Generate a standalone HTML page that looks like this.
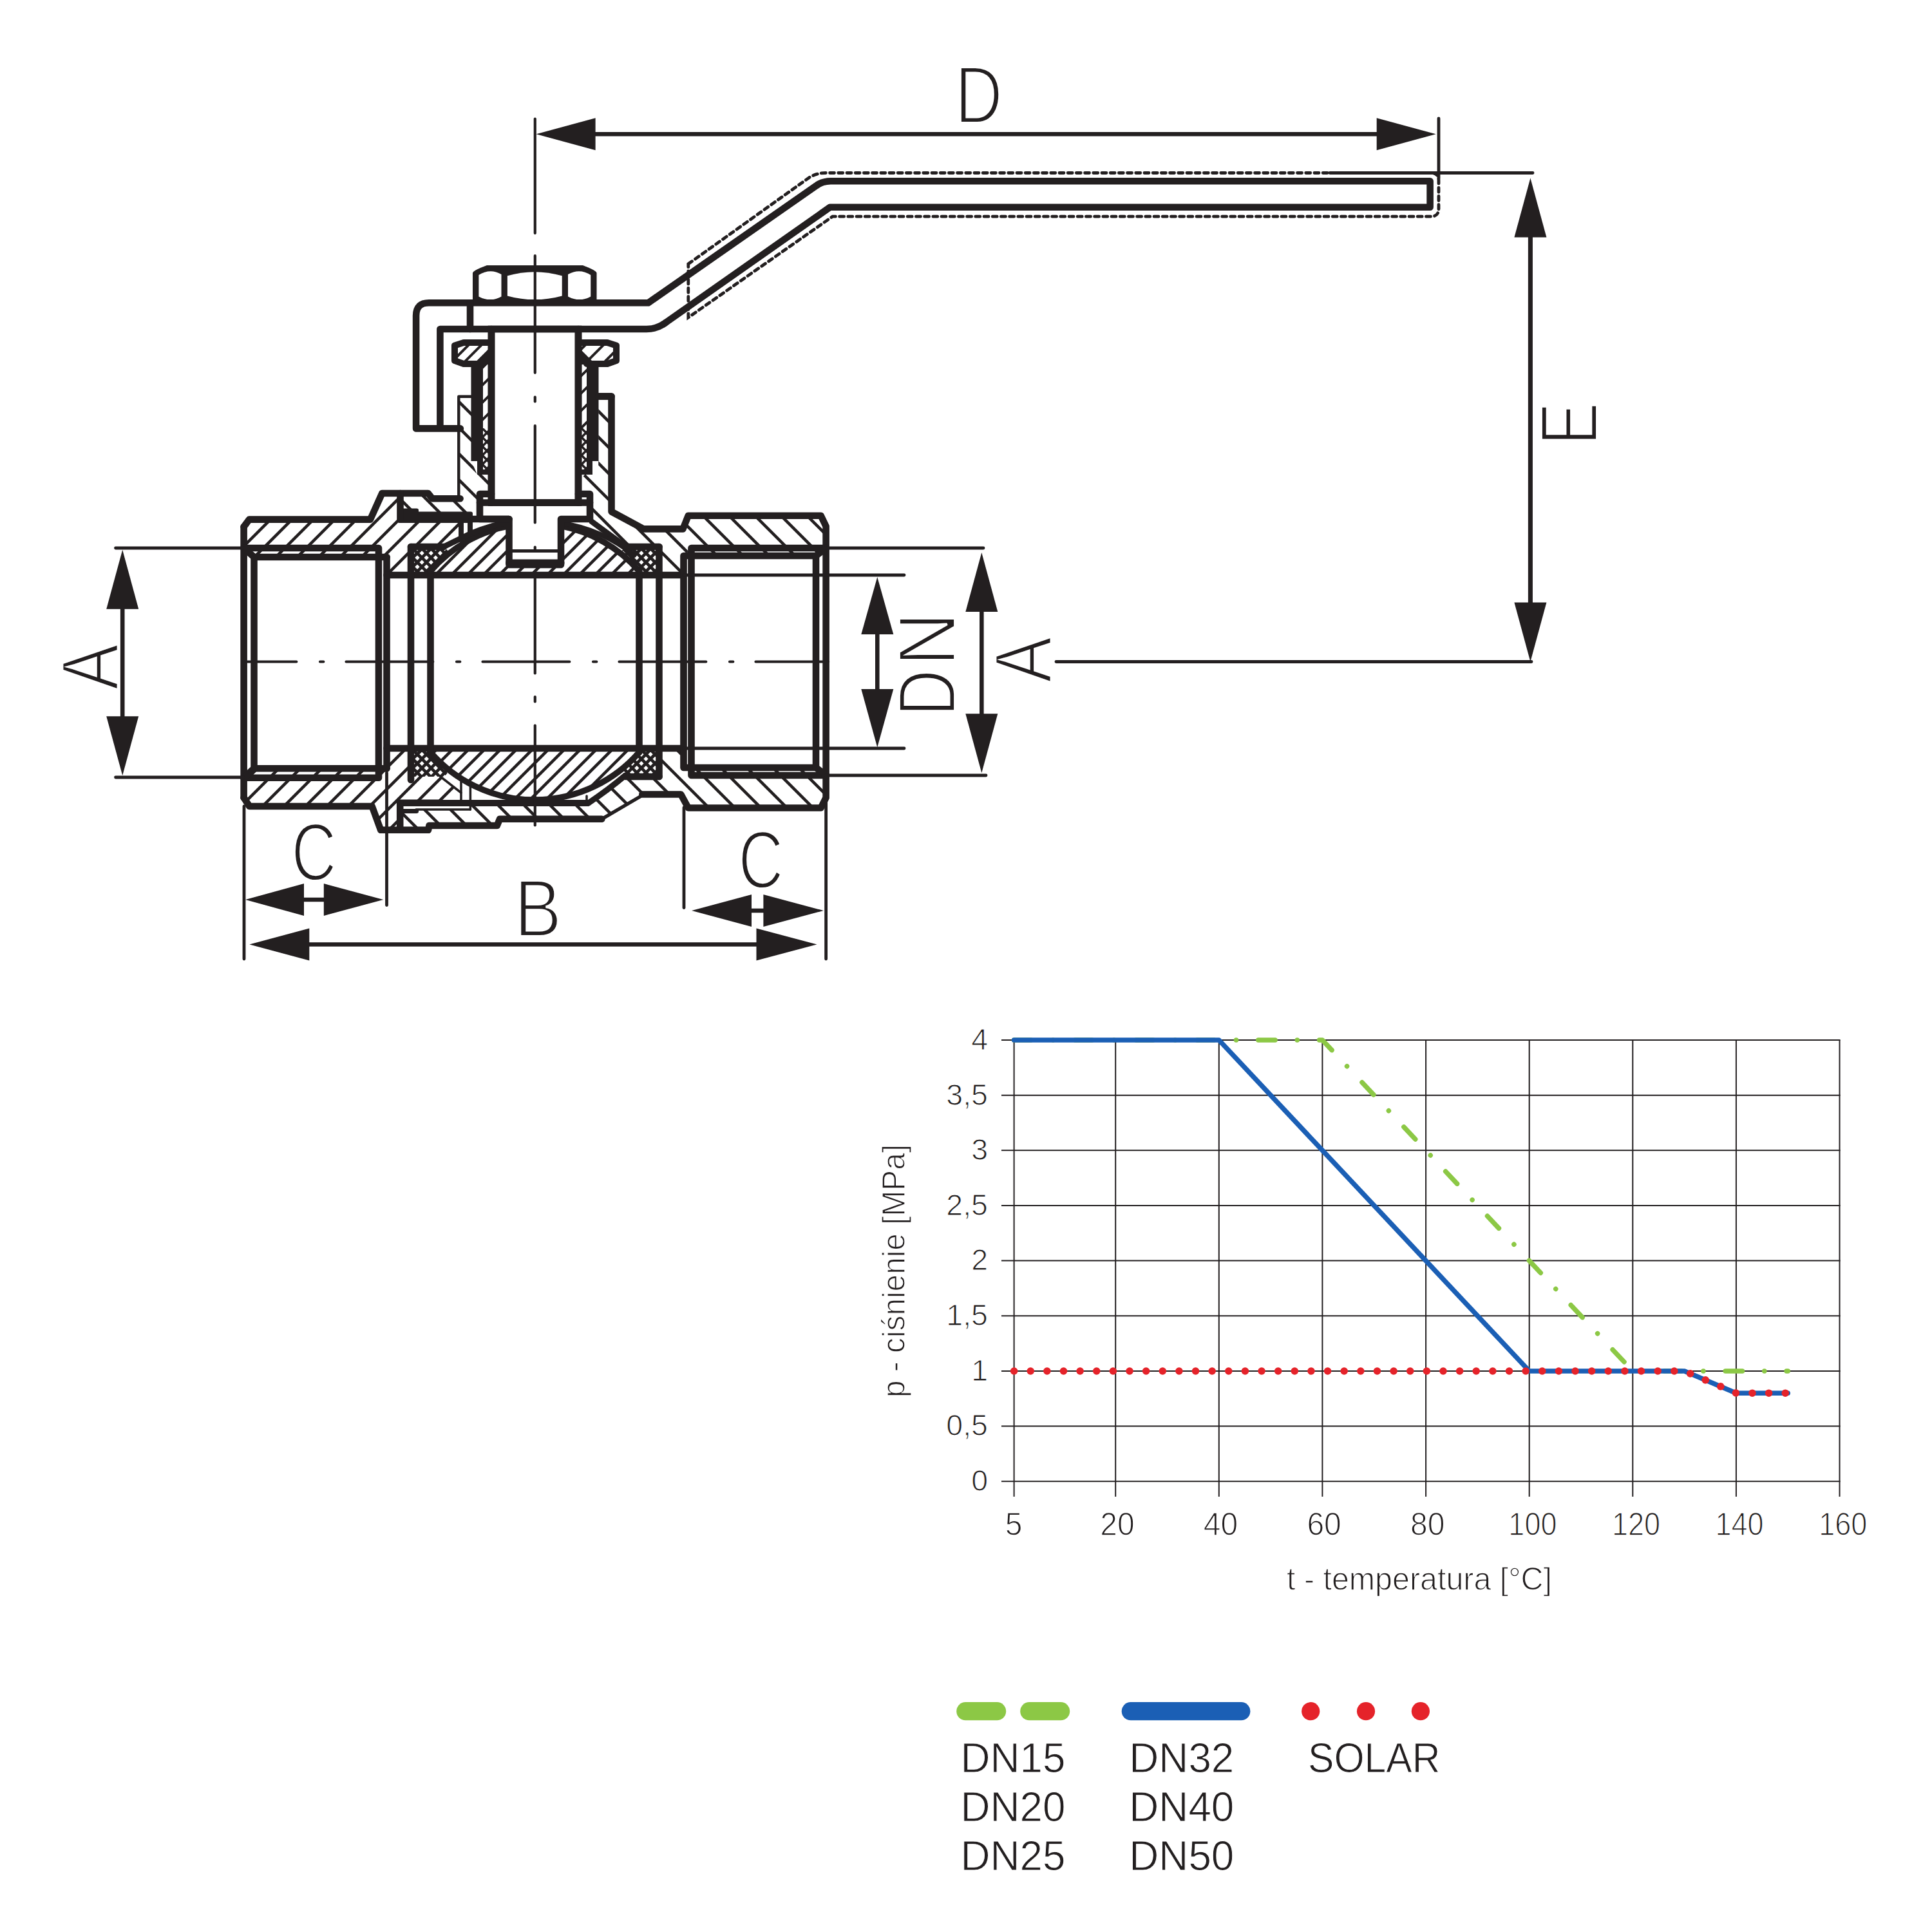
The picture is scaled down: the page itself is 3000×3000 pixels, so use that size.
<!DOCTYPE html>
<html lang="pl"><head><meta charset="utf-8"><title>Zawór kulowy</title>
<style>
html,body{margin:0;padding:0;background:#fff}
svg{display:block}
text{font-family:"Liberation Sans",sans-serif}
</style></head><body>
<svg width="3000" height="3000" viewBox="0 0 3000 3000">
<rect width="3000" height="3000" fill="#fff"/>
<defs>
<clipPath id="c1"><polygon points="378.6,818 387,806.6 575,806.6 593.3,766 621.5,766 621.5,806 730,806 730,829 688,850 638,850 638,893 600.5,893 600.5,865 588,865 588,851 378.6,851"/></clipPath>
<clipPath id="c2"><polygon points="378.6,1238.7 387.3,1252 577.7,1252 591.2,1288.8 621.2,1288.8 621.2,1247 716,1247 716,1231 684,1206 638,1206 638,1162 600.5,1162 600.5,1193.2 588,1193.2 588,1207.8 378.6,1207.8"/></clipPath>
<clipPath id="c3"><polygon points="380,851 588,851 588,865 394.5,865"/></clipPath>
<clipPath id="c4"><polygon points="380,1207.8 588,1207.8 588,1193.2 394.5,1193.2"/></clipPath>
<clipPath id="c5"><polygon points="949.5,615.5 949.5,794.5 999.4,821.4 1060.5,821.4 1068.7,800.8 1274.7,800.8 1282.6,817.3 1282.6,851 1073.5,851 1061.5,863 1061.5,893 1023.5,893 1023.5,849 972,849 923,817.5 916,806 916,767 898,767 898,748 908,737 929.2,737 929.2,615.5"/></clipPath>
<clipPath id="c6"><polygon points="712.3,615.7 732,615.7 732,716 741,737 749,737 763,751 763,767 745,767 745,795 621.5,795 621.5,766 664.8,766 671.3,774.3 712.3,774.3"/></clipPath>
<clipPath id="c7"><polygon points="1282.6,1204 1282.6,1238.7 1274.7,1254.5 1068.7,1254.5 1057.3,1233.5 997.3,1233.5 934.4,1271.8 776,1271.8 771.8,1282 666,1282 665,1288.8 621.2,1288.8 621.2,1258 730,1258 730,1247 912.6,1247 971,1204 1023.5,1206 1023.5,1162 1061.5,1162 1061.5,1192 1073.5,1204"/></clipPath>
<clipPath id="c8"><polygon points="1073.5,851 1282.6,851 1267,863 1061.5,863"/></clipPath>
<clipPath id="c9"><polygon points="1073.5,1204 1282.6,1204 1267,1192 1061.5,1192"/></clipPath>
<clipPath id="c10"><path d="M668.5 893L668.5 886.9A214.5 214.5 0 0 1 790.5 816.8L790.5 877L871 877L871 816.8A214.5 214.5 0 0 1 992.5 886.9L992.5 893Z"/></clipPath>
<clipPath id="c11"><path d="M668.5 1162L668.5 1168.1A214.5 214.5 0 0 0 992.5 1168.1L992.5 1162Z"/></clipPath>
<clipPath id="c12"><polygon points="638,849 690,849 696,856 668.5,893 638,893"/></clipPath>
<clipPath id="c13"><polygon points="638,849 690,849 696,856 668.5,893 638,893"/></clipPath>
<clipPath id="c14"><polygon points="638,1206 690,1206 696,1199 668.5,1162 638,1162"/></clipPath>
<clipPath id="c15"><polygon points="638,1206 690,1206 696,1199 668.5,1162 638,1162"/></clipPath>
<clipPath id="c16"><polygon points="1023,849 971,849 965,856 992.5,893 1023,893"/></clipPath>
<clipPath id="c17"><polygon points="1023,849 971,849 965,856 992.5,893 1023,893"/></clipPath>
<clipPath id="c18"><polygon points="1023,1206 971,1206 965,1199 992.5,1162 1023,1162"/></clipPath>
<clipPath id="c19"><polygon points="1023,1206 971,1206 965,1199 992.5,1162 1023,1162"/></clipPath>
<clipPath id="c20"><polygon points="707,536 722,532 763,532 763,548 746,565 722,565 707,561"/></clipPath>
<clipPath id="c21"><polygon points="954,536 939,532 898,532 898,548 915,565 939,565 954,561"/></clipPath>
<clipPath id="c22"><polygon points="749,565 763,551 763,665 749,665"/></clipPath>
<clipPath id="c23"><polygon points="912,565 898,551 898,665 912,665"/></clipPath>
<clipPath id="c24"><polygon points="749,665 763,665 763,729 749,729"/></clipPath>
<clipPath id="c25"><polygon points="749,665 763,665 763,729 749,729"/></clipPath>
<clipPath id="c26"><polygon points="912,665 898,665 898,729 912,729"/></clipPath>
<clipPath id="c27"><polygon points="912,665 898,665 898,729 912,729"/></clipPath>
</defs>
<path clip-path="url(#c1)" d="M396.1 764L265.1 895M429.4 764L298.4 895M462.7 764L331.7 895M496 764L365 895M529.3 764L398.3 895M562.6 764L431.6 895M595.9 764L464.9 895M629.2 764L498.2 895M662.5 764L531.5 895M695.8 764L564.8 895M729.1 764L598.1 895M762.4 764L631.4 895M795.7 764L664.7 895M829 764L698 895" fill="none" stroke="#231f20" stroke-width="4.6"/>
<path clip-path="url(#c2)" d="M399.7 1160L268.9 1290.8M433 1160L302.2 1290.8M466.3 1160L335.5 1290.8M499.6 1160L368.8 1290.8M532.9 1160L402.1 1290.8M566.2 1160L435.4 1290.8M599.5 1160L468.7 1290.8M632.8 1160L502 1290.8M666.1 1160L535.3 1290.8M699.4 1160L568.6 1290.8M732.7 1160L601.9 1290.8M766 1160L635.2 1290.8M799.3 1160L668.5 1290.8M832.6 1160L701.8 1290.8" fill="none" stroke="#231f20" stroke-width="4.6"/>
<path clip-path="url(#c3)" d="M411 849L393 867M444.3 849L426.3 867M477.6 849L459.6 867M510.9 849L492.9 867M544.2 849L526.2 867M577.5 849L559.5 867" fill="none" stroke="#231f20" stroke-width="4.6"/>
<path clip-path="url(#c4)" d="M401.8 1191.2L383.2 1209.8M435.1 1191.2L416.5 1209.8M468.4 1191.2L449.8 1209.8M501.7 1191.2L483.1 1209.8M535 1191.2L516.4 1209.8M568.3 1191.2L549.7 1209.8M601.6 1191.2L583 1209.8" fill="none" stroke="#231f20" stroke-width="4.6"/>
<path clip-path="url(#c5)" d="M621.5 613.5L903 895M661.9 613.5L943.4 895M702.3 613.5L983.8 895M742.7 613.5L1024.2 895M783.1 613.5L1064.6 895M823.5 613.5L1105 895M863.9 613.5L1145.4 895M904.3 613.5L1185.8 895M944.7 613.5L1226.2 895M985.1 613.5L1266.6 895M1025.5 613.5L1307 895M1065.9 613.5L1347.4 895M1106.3 613.5L1387.8 895M1146.7 613.5L1428.2 895M1187.1 613.5L1468.6 895M1227.5 613.5L1509 895M1267.9 613.5L1549.4 895" fill="none" stroke="#231f20" stroke-width="4.6"/>
<path clip-path="url(#c6)" d="M460.1 613.7L643.4 797M500.5 613.7L683.8 797M540.9 613.7L724.2 797M581.3 613.7L764.6 797M621.7 613.7L805 797M662.1 613.7L845.4 797M702.5 613.7L885.8 797M742.9 613.7L926.2 797" fill="none" stroke="#231f20" stroke-width="4.6"/>
<path clip-path="url(#c7)" d="M521.6 1160L652.4 1290.8M562 1160L692.8 1290.8M602.4 1160L733.2 1290.8M642.8 1160L773.6 1290.8M683.2 1160L814 1290.8M723.6 1160L854.4 1290.8M764 1160L894.8 1290.8M804.4 1160L935.2 1290.8M844.8 1160L975.6 1290.8M885.2 1160L1016 1290.8M925.6 1160L1056.4 1290.8M966 1160L1096.8 1290.8M1006.4 1160L1137.2 1290.8M1046.8 1160L1177.6 1290.8M1087.2 1160L1218 1290.8M1127.6 1160L1258.4 1290.8M1168 1160L1298.8 1290.8M1208.4 1160L1339.2 1290.8M1248.8 1160L1379.6 1290.8" fill="none" stroke="#231f20" stroke-width="4.6"/>
<path clip-path="url(#c8)" d="M1059 849L1075 865M1099.4 849L1115.4 865M1139.8 849L1155.8 865M1180.2 849L1196.2 865M1220.6 849L1236.6 865M1261 849L1277 865" fill="none" stroke="#231f20" stroke-width="4.6"/>
<path clip-path="url(#c9)" d="M1076.8 1190L1092.8 1206M1117.2 1190L1133.2 1206M1157.6 1190L1173.6 1206M1198 1190L1214 1206M1238.4 1190L1254.4 1206M1278.8 1190L1294.8 1206" fill="none" stroke="#231f20" stroke-width="4.6"/>
<path clip-path="url(#c10)" d="M686.5 808L597.5 897M711.3 808L622.3 897M736.1 808L647.1 897M760.9 808L671.9 897M785.7 808L696.7 897M810.5 808L721.5 897M835.3 808L746.3 897M860.1 808L771.1 897M884.9 808L795.9 897M909.7 808L820.7 897M934.5 808L845.5 897M959.3 808L870.3 897M984.1 808L895.1 897M1008.9 808L919.9 897M1033.7 808L944.7 897M1058.5 808L969.5 897" fill="none" stroke="#231f20" stroke-width="4.6"/>
<path clip-path="url(#c11)" d="M683.7 1158L594.7 1247M708.5 1158L619.5 1247M733.3 1158L644.3 1247M758.1 1158L669.1 1247M782.9 1158L693.9 1247M807.7 1158L718.7 1247M832.5 1158L743.5 1247M857.3 1158L768.3 1247M882.1 1158L793.1 1247M906.9 1158L817.9 1247M931.7 1158L842.7 1247M956.5 1158L867.5 1247M981.3 1158L892.3 1247M1006.1 1158L917.1 1247M1030.9 1158L941.9 1247M1055.7 1158L966.7 1247" fill="none" stroke="#231f20" stroke-width="4.6"/>
<path clip-path="url(#c12)" d="M645.7 847L597.7 895M659.9 847L611.9 895M674.1 847L626.1 895M688.3 847L640.3 895M702.5 847L654.5 895M716.7 847L668.7 895M730.9 847L682.9 895" fill="none" stroke="#231f20" stroke-width="4.8"/>
<path clip-path="url(#c13)" d="M593.5 847L641.5 895M607.7 847L655.7 895M621.9 847L669.9 895M636.1 847L684.1 895M650.3 847L698.3 895M664.5 847L712.5 895M678.7 847L726.7 895M692.9 847L740.9 895" fill="none" stroke="#231f20" stroke-width="4.8"/>
<path clip-path="url(#c14)" d="M645.1 1160L597.1 1208M659.3 1160L611.3 1208M673.5 1160L625.5 1208M687.7 1160L639.7 1208M701.9 1160L653.9 1208M716.1 1160L668.1 1208M730.3 1160L682.3 1208" fill="none" stroke="#231f20" stroke-width="4.8"/>
<path clip-path="url(#c15)" d="M594.1 1160L642.1 1208M608.3 1160L656.3 1208M622.5 1160L670.5 1208M636.7 1160L684.7 1208M650.9 1160L698.9 1208M665.1 1160L713.1 1208M679.3 1160L727.3 1208M693.5 1160L741.5 1208" fill="none" stroke="#231f20" stroke-width="4.8"/>
<path clip-path="url(#c16)" d="M972.3 847L924.3 895M986.5 847L938.5 895M1000.7 847L952.7 895M1014.9 847L966.9 895M1029.1 847L981.1 895M1043.3 847L995.3 895M1057.5 847L1009.5 895" fill="none" stroke="#231f20" stroke-width="4.8"/>
<path clip-path="url(#c17)" d="M920.1 847L968.1 895M934.3 847L982.3 895M948.5 847L996.5 895M962.7 847L1010.7 895M976.9 847L1024.9 895M991.1 847L1039.1 895M1005.3 847L1053.3 895M1019.5 847L1067.5 895" fill="none" stroke="#231f20" stroke-width="4.8"/>
<path clip-path="url(#c18)" d="M971.7 1160L923.7 1208M985.9 1160L937.9 1208M1000.1 1160L952.1 1208M1014.3 1160L966.3 1208M1028.5 1160L980.5 1208M1042.7 1160L994.7 1208M1056.9 1160L1008.9 1208" fill="none" stroke="#231f20" stroke-width="4.8"/>
<path clip-path="url(#c19)" d="M920.7 1160L968.7 1208M934.9 1160L982.9 1208M949.1 1160L997.1 1208M963.3 1160L1011.3 1208M977.5 1160L1025.5 1208M991.7 1160L1039.7 1208M1005.9 1160L1053.9 1208M1020.1 1160L1068.1 1208" fill="none" stroke="#231f20" stroke-width="4.8"/>
<path clip-path="url(#c20)" d="M713.3 530L676.3 567M733.3 530L696.3 567M753.3 530L716.3 567M773.3 530L736.3 567M793.3 530L756.3 567" fill="none" stroke="#231f20" stroke-width="4"/>
<path clip-path="url(#c21)" d="M914.7 530L877.7 567M942.7 530L905.7 567M970.7 530L933.7 567" fill="none" stroke="#231f20" stroke-width="4"/>
<path clip-path="url(#c22)" d="M771 549L653 667M798 549L680 667M825 549L707 667M852 549L734 667M879 549L761 667" fill="none" stroke="#231f20" stroke-width="4"/>
<path clip-path="url(#c23)" d="M910 549L792 667M937 549L819 667M964 549L846 667M991 549L873 667M1018 549L900 667" fill="none" stroke="#231f20" stroke-width="4"/>
<path clip-path="url(#c24)" d="M751 663L683 731M765 663L697 731M779 663L711 731M793 663L725 731M807 663L739 731M821 663L753 731" fill="none" stroke="#231f20" stroke-width="3.4"/>
<path clip-path="url(#c25)" d="M691 663L759 731M705 663L773 731M719 663L787 731M733 663L801 731M747 663L815 731M761 663L829 731" fill="none" stroke="#231f20" stroke-width="3.4"/>
<path clip-path="url(#c26)" d="M905 663L837 731M919 663L851 731M933 663L865 731M947 663L879 731M961 663L893 731M975 663L907 731" fill="none" stroke="#231f20" stroke-width="3.4"/>
<path clip-path="url(#c27)" d="M845 663L913 731M859 663L927 731M873 663L941 731M887 663L955 731M901 663L969 731" fill="none" stroke="#231f20" stroke-width="3.4"/>
<polyline points="378.6,818 387,806.6 575,806.6 593.3,766 664.8,766 671.3,774.3 714.6,774.3" fill="none" stroke="#231f20" stroke-width="10.6" stroke-linejoin="round" stroke-linecap="round" />
<polyline points="378.6,1238.7 387.3,1252 577.7,1252 591.2,1288.8 665,1288.8 666.5,1282 771.8,1282 776,1271.8 934.4,1271.8" fill="none" stroke="#231f20" stroke-width="10.6" stroke-linejoin="round" stroke-linecap="round" />
<line x1="378.6" y1="818" x2="378.6" y2="1238.7" stroke="#231f20" stroke-width="10.6" stroke-linecap="round" />
<polyline points="378.6,851 588,851 588,865" fill="none" stroke="#231f20" stroke-width="10.6" stroke-linejoin="round" stroke-linecap="round" />
<polyline points="378.6,851 394.5,865 600.5,865" fill="none" stroke="#231f20" stroke-width="10.6" stroke-linejoin="round" stroke-linecap="round" />
<polyline points="378.6,1207.8 588,1207.8 588,1193.2" fill="none" stroke="#231f20" stroke-width="10.6" stroke-linejoin="round" stroke-linecap="round" />
<polyline points="378.6,1207.8 394.5,1193.2 600.5,1193.2" fill="none" stroke="#231f20" stroke-width="10.6" stroke-linejoin="round" stroke-linecap="round" />
<line x1="394.5" y1="865" x2="394.5" y2="1193.2" stroke="#231f20" stroke-width="10.6" stroke-linecap="round" />
<line x1="588" y1="865" x2="588" y2="1193.2" stroke="#231f20" stroke-width="10.6" stroke-linecap="round" />
<line x1="600.5" y1="865" x2="600.5" y2="1193.2" stroke="#231f20" stroke-width="10.6" stroke-linecap="round" />
<line x1="600.5" y1="893" x2="1061.5" y2="893" stroke="#231f20" stroke-width="10.6" stroke-linecap="round" />
<line x1="600.5" y1="1162" x2="1061.5" y2="1162" stroke="#231f20" stroke-width="10.6" stroke-linecap="round" />
<line x1="638" y1="849" x2="638" y2="1211" stroke="#231f20" stroke-width="10.6" stroke-linecap="round" />
<line x1="1023.5" y1="849" x2="1023.5" y2="1206" stroke="#231f20" stroke-width="10.6" stroke-linecap="round" />
<line x1="668.5" y1="886.9" x2="668.5" y2="1168.1" stroke="#231f20" stroke-width="10.6" stroke-linecap="round" />
<line x1="992.5" y1="886.9" x2="992.5" y2="1168.1" stroke="#231f20" stroke-width="10.6" stroke-linecap="round" />
<line x1="638" y1="849" x2="689" y2="849" stroke="#231f20" stroke-width="10.6" stroke-linecap="round" />
<line x1="972" y1="849" x2="1023.5" y2="849" stroke="#231f20" stroke-width="10.6" stroke-linecap="round" />
<line x1="972" y1="1206" x2="1023.5" y2="1206" stroke="#231f20" stroke-width="10.6" stroke-linecap="round" />
<path d="M668.5 886.9A214.5 214.5 0 0 1 790.5 816.8" fill="none" stroke="#231f20" stroke-width="9.3" stroke-linejoin="round" stroke-linecap="round" />
<path d="M871 816.8A214.5 214.5 0 0 1 992.5 886.9" fill="none" stroke="#231f20" stroke-width="9.3" stroke-linejoin="round" stroke-linecap="round" />
<path d="M668.5 1168.1A214.5 214.5 0 0 0 992.5 1168.1" fill="none" stroke="#231f20" stroke-width="9.3" stroke-linejoin="round" stroke-linecap="round" />
<path d="M689 849 L730 829 Q760 816 790 811" fill="none" stroke="#231f20" stroke-width="9" stroke-linejoin="round" stroke-linecap="round" />
<path d="M985 862 Q935 822 871 812" fill="none" stroke="#231f20" stroke-width="7.5" stroke-linejoin="round" stroke-linecap="round" />
<path d="M919 810 L972 849" fill="none" stroke="#231f20" stroke-width="9" stroke-linejoin="round" stroke-linecap="round" />
<path d="M684 1206 L716 1231" fill="none" stroke="#231f20" stroke-width="3.5" stroke-linejoin="round" stroke-linecap="round" />
<path d="M971 1204 Q945 1226 913 1247.5" fill="none" stroke="#231f20" stroke-width="9" stroke-linejoin="round" stroke-linecap="round" />
<rect x="617" y="794.5" width="117" height="17.5" rx="3" fill="#231f20"/>
<rect x="622" y="789.5" width="28" height="10" rx="3" fill="#231f20"/>
<line x1="621.5" y1="766" x2="621.5" y2="806" stroke="#231f20" stroke-width="10.6" stroke-linecap="round" />
<line x1="716" y1="808" x2="716" y2="838" stroke="#231f20" stroke-width="8" stroke-linecap="round" />
<line x1="730" y1="808" x2="730" y2="829" stroke="#231f20" stroke-width="8" stroke-linecap="round" />
<line x1="621.2" y1="1247" x2="912.6" y2="1247" stroke="#231f20" stroke-width="10" stroke-linecap="round" />
<rect x="617" y="1241.5" width="70" height="10.5" rx="3" fill="#231f20"/>
<line x1="621.2" y1="1247" x2="621.2" y2="1288.8" stroke="#231f20" stroke-width="10.6" stroke-linecap="round" />
<line x1="621.2" y1="1259.5" x2="646.6" y2="1259.5" stroke="#231f20" stroke-width="7" stroke-linecap="round" />
<line x1="646" y1="1257" x2="730.4" y2="1257" stroke="#231f20" stroke-width="3.5" stroke-linecap="round" />
<line x1="730.4" y1="1218" x2="730.4" y2="1257" stroke="#231f20" stroke-width="3.5" stroke-linecap="round" />
<line x1="716" y1="1214" x2="716" y2="1247" stroke="#231f20" stroke-width="3.5" stroke-linecap="round" />
<line x1="911" y1="1236" x2="911" y2="1246" stroke="#231f20" stroke-width="3.5" stroke-linecap="round" />
<polyline points="929.2,615.5 949.5,615.5 949.5,794.5 999.4,821.4 1060.5,821.4 1068.7,800.8 1274.7,800.8 1282.6,817.3 1282.6,1238.7 1274.7,1254.5 1068.7,1254.5 1057.3,1233.5 997.3,1233.5" fill="none" stroke="#231f20" stroke-width="10.6" stroke-linejoin="round" stroke-linecap="round" />
<line x1="997.3" y1="1235" x2="934.4" y2="1271.8" stroke="#231f20" stroke-width="5.5" stroke-linecap="round" />
<polyline points="1282.6,851 1073.5,851 1073.5,1204 1282.6,1204" fill="none" stroke="#231f20" stroke-width="10.6" stroke-linejoin="round" stroke-linecap="round" />
<polyline points="1282.6,851 1267,863 1061.5,863 1061.5,1192 1267,1192 1282.6,1204" fill="none" stroke="#231f20" stroke-width="10.6" stroke-linejoin="round" stroke-linecap="round" />
<line x1="1267" y1="863" x2="1267" y2="1192" stroke="#231f20" stroke-width="10.6" stroke-linecap="round" />
<polyline points="732,615.7 712.3,615.7 712.3,774.3" fill="none" stroke="#231f20" stroke-width="4.5" stroke-linejoin="round" stroke-linecap="round" />
<rect x="763" y="511" width="135" height="269.5" fill="#fff" stroke="#231f20" stroke-width="10.6"/>
<polyline points="763,767 745,767 745,806 790.5,806 790.5,877 871,877 871,806 916,806 916,767 898,767" fill="none" stroke="#231f20" stroke-width="10.6" stroke-linejoin="round" stroke-linecap="round" />
<line x1="745" y1="780.5" x2="916" y2="780.5" stroke="#231f20" stroke-width="10.6" stroke-linecap="round" />
<line x1="733" y1="806" x2="790.5" y2="806" stroke="#231f20" stroke-width="10.6" stroke-linecap="round" />
<line x1="790.5" y1="855.6" x2="871" y2="855.6" stroke="#231f20" stroke-width="5" stroke-linecap="round" />
<line x1="790.5" y1="874" x2="871" y2="874" stroke="#231f20" stroke-width="11" stroke-linecap="round" />
<path d="M763 532L720 532L706 536.5L706 560L720 565L750 565" fill="none" stroke="#231f20" stroke-width="10" stroke-linejoin="round" stroke-linecap="round" />
<path d="M898 532L943 532L957 536.5L957 560L943 565L911 565" fill="none" stroke="#231f20" stroke-width="10" stroke-linejoin="round" stroke-linecap="round" />
<path d="M741 561L758 544V566H741Z" fill="#231f20"/>
<path d="M920 561L903 544V566H920Z" fill="#231f20"/>
<path d="M731.5 560H750V737H741V716H731.5Z" fill="#231f20"/>
<path d="M929.5 560H911V737H920V716H929.5Z" fill="#231f20"/>
<line x1="749" y1="733" x2="763" y2="733" stroke="#231f20" stroke-width="8" stroke-linecap="round" />
<line x1="898" y1="733" x2="911" y2="733" stroke="#231f20" stroke-width="8" stroke-linecap="round" />
<line x1="929.2" y1="615.5" x2="949.5" y2="615.5" stroke="#231f20" stroke-width="10.6" stroke-linecap="round" />
<line x1="763" y1="511" x2="763" y2="780.5" stroke="#231f20" stroke-width="10.6" stroke-linecap="round" />
<line x1="898" y1="511" x2="898" y2="780.5" stroke="#231f20" stroke-width="10.6" stroke-linecap="round" />
<path d="M734 475V424Q734 420 756 412H905Q926.5 420 926.5 424V475Z" fill="#231f20"/>
<path d="M743.4 427Q761 416 778.5 426V460.4Q761 470 743.4 460.4Z" fill="#fff"/>
<path d="M787.9 428.3Q830 416 872.7 428.3V459.4Q830 471 787.9 459.4Z" fill="#fff"/>
<path d="M882 426Q900 416 917.2 427V460.4Q900 470 882 460.4Z" fill="#fff"/>
<path d="M714.9 665.4H646.1V490Q646.1 470.3 666 470.3H1006.5L1267.4 288.4Q1277 281.2 1290 281.2H2220.6V321.7H1289L1035 500Q1021 511 1004 511H683.4V665.4" fill="none" stroke="#231f20" stroke-width="10.6" stroke-linejoin="round" stroke-linecap="round" />
<line x1="730" y1="470.3" x2="730" y2="511" stroke="#231f20" stroke-width="10.6" stroke-linecap="round" />
<path d="M1068.8 409.8L1256.5 275.7Q1268 268.5 1282 268.5H2222Q2234 268.5 2234 280.5V324Q2234 336.2 2222 336.2H1292.8L1068.8 493Z" fill="none" stroke="#231f20" stroke-width="4.8" stroke-dasharray="7 6.2" stroke-linecap="round"/>
<line x1="384" y1="1027.5" x2="1286" y2="1027.5" stroke="#231f20" stroke-width="4.2" stroke-linecap="round" stroke-dasharray="134.8 36.7 5.3 35.2" stroke-dashoffset="58.5"/>
<line x1="830.8" y1="184.6" x2="830.8" y2="362.1" stroke="#231f20" stroke-width="4.2" stroke-linecap="round" />
<line x1="830.8" y1="397" x2="830.8" y2="578.8" stroke="#231f20" stroke-width="4.2" stroke-linecap="round" />
<line x1="830.8" y1="616.6" x2="830.8" y2="623.4" stroke="#231f20" stroke-width="4.2" stroke-linecap="round" />
<line x1="830.8" y1="661.1" x2="830.8" y2="811.4" stroke="#231f20" stroke-width="4.2" stroke-linecap="round" />
<line x1="830.8" y1="849.6" x2="830.8" y2="852.4" stroke="#231f20" stroke-width="4.2" stroke-linecap="round" />
<line x1="830.8" y1="898.6" x2="830.8" y2="1045.4" stroke="#231f20" stroke-width="4.2" stroke-linecap="round" />
<line x1="830.8" y1="1082.1" x2="830.8" y2="1089.4" stroke="#231f20" stroke-width="4.2" stroke-linecap="round" />
<line x1="830.8" y1="1126.6" x2="830.8" y2="1281.4" stroke="#231f20" stroke-width="4.2" stroke-linecap="round" />
<line x1="2234" y1="184" x2="2234" y2="277" stroke="#231f20" stroke-width="4.8" stroke-linecap="round" />
<line x1="912.6" y1="208.3" x2="2149.7" y2="208.3" stroke="#231f20" stroke-width="6.6" stroke-linecap="butt" />
<polygon points="832.6,208.3 924.6,183.3 924.6,233.3" fill="#231f20"/>
<polygon points="2229.7,208.3 2137.7,233.3 2137.7,183.3" fill="#231f20"/>
<line x1="2065" y1="268.5" x2="2380" y2="268.5" stroke="#231f20" stroke-width="4.8" stroke-linecap="round" />
<line x1="1640" y1="1027.5" x2="2378" y2="1027.5" stroke="#231f20" stroke-width="4.8" stroke-linecap="round" />
<line x1="2376.4" y1="356.4" x2="2376.4" y2="947.5" stroke="#231f20" stroke-width="7.1" stroke-linecap="butt" />
<polygon points="2376.4,276.4 2401.4,368.4 2351.4,368.4" fill="#231f20"/>
<polygon points="2376.4,1027.5 2351.4,935.5 2401.4,935.5" fill="#231f20"/>
<line x1="179.5" y1="851" x2="378" y2="851" stroke="#231f20" stroke-width="4.8" stroke-linecap="round" />
<line x1="179.5" y1="1207" x2="378" y2="1207" stroke="#231f20" stroke-width="4.8" stroke-linecap="round" />
<line x1="190.2" y1="933.7" x2="190.2" y2="1124.3" stroke="#231f20" stroke-width="6.6" stroke-linecap="butt" />
<polygon points="190.2,853.7 215.2,945.7 165.2,945.7" fill="#231f20"/>
<polygon points="190.2,1204.3 165.2,1112.3 215.2,1112.3" fill="#231f20"/>
<line x1="1282" y1="851" x2="1527" y2="851" stroke="#231f20" stroke-width="4.8" stroke-linecap="round" />
<line x1="1282" y1="1204" x2="1531" y2="1204" stroke="#231f20" stroke-width="4.8" stroke-linecap="round" />
<line x1="1524.3" y1="938" x2="1524.3" y2="1120.3" stroke="#231f20" stroke-width="6.6" stroke-linecap="butt" />
<polygon points="1524.3,858 1549.3,950 1499.3,950" fill="#231f20"/>
<polygon points="1524.3,1200.3 1499.3,1108.3 1549.3,1108.3" fill="#231f20"/>
<line x1="1061.5" y1="893" x2="1404" y2="893" stroke="#231f20" stroke-width="4.8" stroke-linecap="round" />
<line x1="1061.5" y1="1162" x2="1404" y2="1162" stroke="#231f20" stroke-width="4.8" stroke-linecap="round" />
<line x1="1362.3" y1="976" x2="1362.3" y2="1080.4" stroke="#231f20" stroke-width="6.6" stroke-linecap="butt" />
<polygon points="1362.3,896 1387.3,985 1337.3,985" fill="#231f20"/>
<polygon points="1362.3,1160.4 1337.3,1069.9 1387.3,1069.9" fill="#231f20"/>
<line x1="379" y1="1252" x2="379" y2="1489" stroke="#231f20" stroke-width="4.8" stroke-linecap="round" />
<line x1="600.5" y1="1200" x2="600.5" y2="1405.5" stroke="#231f20" stroke-width="4.8" stroke-linecap="round" />
<line x1="470" y1="1397" x2="505" y2="1397" stroke="#231f20" stroke-width="6.6" stroke-linecap="butt" />
<polygon points="381,1397 472,1372 472,1422" fill="#231f20"/>
<polygon points="595.3,1397 502.8,1422 502.8,1372" fill="#231f20"/>
<line x1="1062" y1="1254" x2="1062" y2="1409.5" stroke="#231f20" stroke-width="4.8" stroke-linecap="round" />
<line x1="1282.6" y1="1240" x2="1282.6" y2="1489" stroke="#231f20" stroke-width="4.8" stroke-linecap="round" />
<line x1="1165" y1="1414" x2="1187" y2="1414" stroke="#231f20" stroke-width="6.6" stroke-linecap="butt" />
<polygon points="1074,1414 1167,1389 1167,1439" fill="#231f20"/>
<polygon points="1278.9,1414 1185.4,1439 1185.4,1389" fill="#231f20"/>
<line x1="467.3" y1="1466.5" x2="1188.5" y2="1466.5" stroke="#231f20" stroke-width="6.6" stroke-linecap="butt" />
<polygon points="387.3,1466.5 480.3,1441.5 480.3,1491.5" fill="#231f20"/>
<polygon points="1268.5,1466.5 1174.5,1491.5 1174.5,1441.5" fill="#231f20"/>
<text transform="translate(1519.8 190.6) scale(0.803 1)" font-size="127" text-anchor="middle" fill="#231f20" stroke="#fff" stroke-width="3.8" >D</text>
<text transform="translate(835.5 1454.3) scale(0.871 1)" font-size="127" text-anchor="middle" fill="#231f20" stroke="#fff" stroke-width="3.8" >B</text>
<text transform="translate(487.4 1366.7) scale(0.763 1)" font-size="127" text-anchor="middle" fill="#231f20" stroke="#fff" stroke-width="3.8" >C</text>
<text transform="translate(1181.6 1378.6) scale(0.763 1)" font-size="127" text-anchor="middle" fill="#231f20" stroke="#fff" stroke-width="3.8" >C</text>
<text transform="translate(2480.2 658.1) rotate(-90) scale(0.778 1)" font-size="127" text-anchor="middle" fill="#231f20" stroke="#fff" stroke-width="3.8" >E</text>
<text transform="translate(182.7 1035.5) rotate(-90) scale(0.847 1)" font-size="127" text-anchor="middle" fill="#231f20" stroke="#fff" stroke-width="3.8" >A</text>
<text transform="translate(1631.9 1024.4) rotate(-90) scale(0.847 1)" font-size="127" text-anchor="middle" fill="#231f20" stroke="#fff" stroke-width="3.8" >A</text>
<text transform="translate(1482.6 1076) rotate(-90) scale(0.787 1)" font-size="127" text-anchor="middle" fill="#231f20" stroke="#fff" stroke-width="3.8" >D</text>
<text transform="translate(1482.6 992.5) rotate(-90) scale(0.909 1)" font-size="127" text-anchor="middle" fill="#231f20" stroke="#fff" stroke-width="3.8" >N</text>
<line x1="1574.6" y1="1615" x2="1574.6" y2="2324" stroke="#231f20" stroke-width="2" stroke-linecap="butt" />
<line x1="1732.2" y1="1615" x2="1732.2" y2="2324" stroke="#231f20" stroke-width="2" stroke-linecap="butt" />
<line x1="1892.8" y1="1615" x2="1892.8" y2="2324" stroke="#231f20" stroke-width="2" stroke-linecap="butt" />
<line x1="2053.4" y1="1615" x2="2053.4" y2="2324" stroke="#231f20" stroke-width="2" stroke-linecap="butt" />
<line x1="2214.1" y1="1615" x2="2214.1" y2="2324" stroke="#231f20" stroke-width="2" stroke-linecap="butt" />
<line x1="2374.7" y1="1615" x2="2374.7" y2="2324" stroke="#231f20" stroke-width="2" stroke-linecap="butt" />
<line x1="2535.3" y1="1615" x2="2535.3" y2="2324" stroke="#231f20" stroke-width="2" stroke-linecap="butt" />
<line x1="2695.9" y1="1615" x2="2695.9" y2="2324" stroke="#231f20" stroke-width="2" stroke-linecap="butt" />
<line x1="2856.5" y1="1615" x2="2856.5" y2="2324" stroke="#231f20" stroke-width="2" stroke-linecap="butt" />
<line x1="1555" y1="1615" x2="2857.5" y2="1615" stroke="#231f20" stroke-width="2" stroke-linecap="butt" />
<line x1="1555" y1="1700.7" x2="2857.5" y2="1700.7" stroke="#231f20" stroke-width="2" stroke-linecap="butt" />
<line x1="1555" y1="1786.3" x2="2857.5" y2="1786.3" stroke="#231f20" stroke-width="2" stroke-linecap="butt" />
<line x1="1555" y1="1872" x2="2857.5" y2="1872" stroke="#231f20" stroke-width="2" stroke-linecap="butt" />
<line x1="1555" y1="1957.6" x2="2857.5" y2="1957.6" stroke="#231f20" stroke-width="2" stroke-linecap="butt" />
<line x1="1555" y1="2043.3" x2="2857.5" y2="2043.3" stroke="#231f20" stroke-width="2" stroke-linecap="butt" />
<line x1="1555" y1="2129" x2="2857.5" y2="2129" stroke="#231f20" stroke-width="2" stroke-linecap="butt" />
<line x1="1555" y1="2214.6" x2="2857.5" y2="2214.6" stroke="#231f20" stroke-width="2" stroke-linecap="butt" />
<line x1="1555" y1="2300.3" x2="2857.5" y2="2300.3" stroke="#231f20" stroke-width="2" stroke-linecap="butt" />
<text transform="translate(1534 1629.8)" font-size="46.5" text-anchor="end" fill="#231f20" stroke="#fff" stroke-width="1.1" >4</text>
<text transform="translate(1534 1715.5)" font-size="46.5" text-anchor="end" fill="#231f20" stroke="#fff" stroke-width="1.1" >3,5</text>
<text transform="translate(1534 1801.1)" font-size="46.5" text-anchor="end" fill="#231f20" stroke="#fff" stroke-width="1.1" >3</text>
<text transform="translate(1534 1886.8)" font-size="46.5" text-anchor="end" fill="#231f20" stroke="#fff" stroke-width="1.1" >2,5</text>
<text transform="translate(1534 1972.4)" font-size="46.5" text-anchor="end" fill="#231f20" stroke="#fff" stroke-width="1.1" >2</text>
<text transform="translate(1534 2058.1)" font-size="46.5" text-anchor="end" fill="#231f20" stroke="#fff" stroke-width="1.1" >1,5</text>
<text transform="translate(1534 2143.8)" font-size="46.5" text-anchor="end" fill="#231f20" stroke="#fff" stroke-width="1.1" >1</text>
<text transform="translate(1534 2229.4)" font-size="46.5" text-anchor="end" fill="#231f20" stroke="#fff" stroke-width="1.1" >0,5</text>
<text transform="translate(1534 2315.1)" font-size="46.5" text-anchor="end" fill="#231f20" stroke="#fff" stroke-width="1.1" >0</text>
<text transform="translate(1574.1 2384) scale(0.960 1)" font-size="50" text-anchor="middle" fill="#231f20" stroke="#fff" stroke-width="1.3" >5</text>
<text transform="translate(1734.9 2384) scale(0.960 1)" font-size="50" text-anchor="middle" fill="#231f20" stroke="#fff" stroke-width="1.3" >20</text>
<text transform="translate(1895.5 2384) scale(0.960 1)" font-size="50" text-anchor="middle" fill="#231f20" stroke="#fff" stroke-width="1.3" >40</text>
<text transform="translate(2056.1 2384) scale(0.960 1)" font-size="50" text-anchor="middle" fill="#231f20" stroke="#fff" stroke-width="1.3" >60</text>
<text transform="translate(2216.8 2384) scale(0.960 1)" font-size="50" text-anchor="middle" fill="#231f20" stroke="#fff" stroke-width="1.3" >80</text>
<text transform="translate(2379.9 2384) scale(0.900 1)" font-size="50" text-anchor="middle" fill="#231f20" stroke="#fff" stroke-width="1.3" >100</text>
<text transform="translate(2540.5 2384) scale(0.900 1)" font-size="50" text-anchor="middle" fill="#231f20" stroke="#fff" stroke-width="1.3" >120</text>
<text transform="translate(2701.1 2384) scale(0.900 1)" font-size="50" text-anchor="middle" fill="#231f20" stroke="#fff" stroke-width="1.3" >140</text>
<text transform="translate(2861.7 2384) scale(0.900 1)" font-size="50" text-anchor="middle" fill="#231f20" stroke="#fff" stroke-width="1.3" >160</text>
<text transform="translate(2204 2469.3)" font-size="50" text-anchor="middle" fill="#231f20" stroke="#fff" stroke-width="1.3" textLength="412" lengthAdjust="spacingAndGlyphs">t - temperatura [°C]</text>
<text transform="translate(1404.5 1973.5) rotate(-90)" font-size="50" text-anchor="middle" fill="#231f20" stroke="#fff" stroke-width="1.3" textLength="393" lengthAdjust="spacingAndGlyphs">p - ciśnienie [MPa]</text>
<polyline points="1574.6,1615 2053.4,1615 2535.3,2129 2776.2,2129" fill="none" stroke="#8cc845" stroke-width="7.5" stroke-linecap="round" stroke-linejoin="round" stroke-dasharray="26.2 34.3 0.01 34.3"/>
<polyline points="1574.6,1615 1892.8,1615 2374.7,2129 2615.6,2129 2695.9,2163.2 2776.2,2163.2" fill="none" stroke="#1b5fb5" stroke-width="7.6" stroke-linecap="round" stroke-linejoin="round"/>
<polyline points="1574.6,2129 2615.6,2129 2695.9,2163.2 2776.2,2163.2" fill="none" stroke="#e5232a" stroke-width="11.6" stroke-linecap="round" stroke-linejoin="round" stroke-dasharray="0.01 25.62"/>
<line x1="1499.3" y1="2657.2" x2="1548.1" y2="2657.2" stroke="#8cc845" stroke-width="28.2" stroke-linecap="round"/>
<line x1="1598.3" y1="2657.2" x2="1647.1" y2="2657.2" stroke="#8cc845" stroke-width="28.2" stroke-linecap="round"/>
<line x1="1755.8" y1="2657.2" x2="1927.3" y2="2657.2" stroke="#1b5fb5" stroke-width="28.2" stroke-linecap="round"/>
<circle cx="2035.2" cy="2657.2" r="14.1" fill="#e5232a"/>
<circle cx="2121" cy="2657.2" r="14.1" fill="#e5232a"/>
<circle cx="2205.9" cy="2657.2" r="14.1" fill="#e5232a"/>
<text transform="translate(1491.5 2752.3)" font-size="65.5" text-anchor="start" fill="#231f20" stroke="#fff" stroke-width="1" textLength="163" lengthAdjust="spacingAndGlyphs">DN15</text>
<text transform="translate(1491.5 2828.2)" font-size="65.5" text-anchor="start" fill="#231f20" stroke="#fff" stroke-width="1" textLength="163" lengthAdjust="spacingAndGlyphs">DN20</text>
<text transform="translate(1491.5 2904.1)" font-size="65.5" text-anchor="start" fill="#231f20" stroke="#fff" stroke-width="1" textLength="163" lengthAdjust="spacingAndGlyphs">DN25</text>
<text transform="translate(1753.3 2752.3)" font-size="65.5" text-anchor="start" fill="#231f20" stroke="#fff" stroke-width="1" textLength="163" lengthAdjust="spacingAndGlyphs">DN32</text>
<text transform="translate(1753.3 2828.2)" font-size="65.5" text-anchor="start" fill="#231f20" stroke="#fff" stroke-width="1" textLength="163" lengthAdjust="spacingAndGlyphs">DN40</text>
<text transform="translate(1753.3 2904.1)" font-size="65.5" text-anchor="start" fill="#231f20" stroke="#fff" stroke-width="1" textLength="163" lengthAdjust="spacingAndGlyphs">DN50</text>
<text transform="translate(2031 2752.3)" font-size="65.5" text-anchor="start" fill="#231f20" stroke="#fff" stroke-width="1" textLength="205.5" lengthAdjust="spacingAndGlyphs">SOLAR</text>
</svg>
</body></html>
